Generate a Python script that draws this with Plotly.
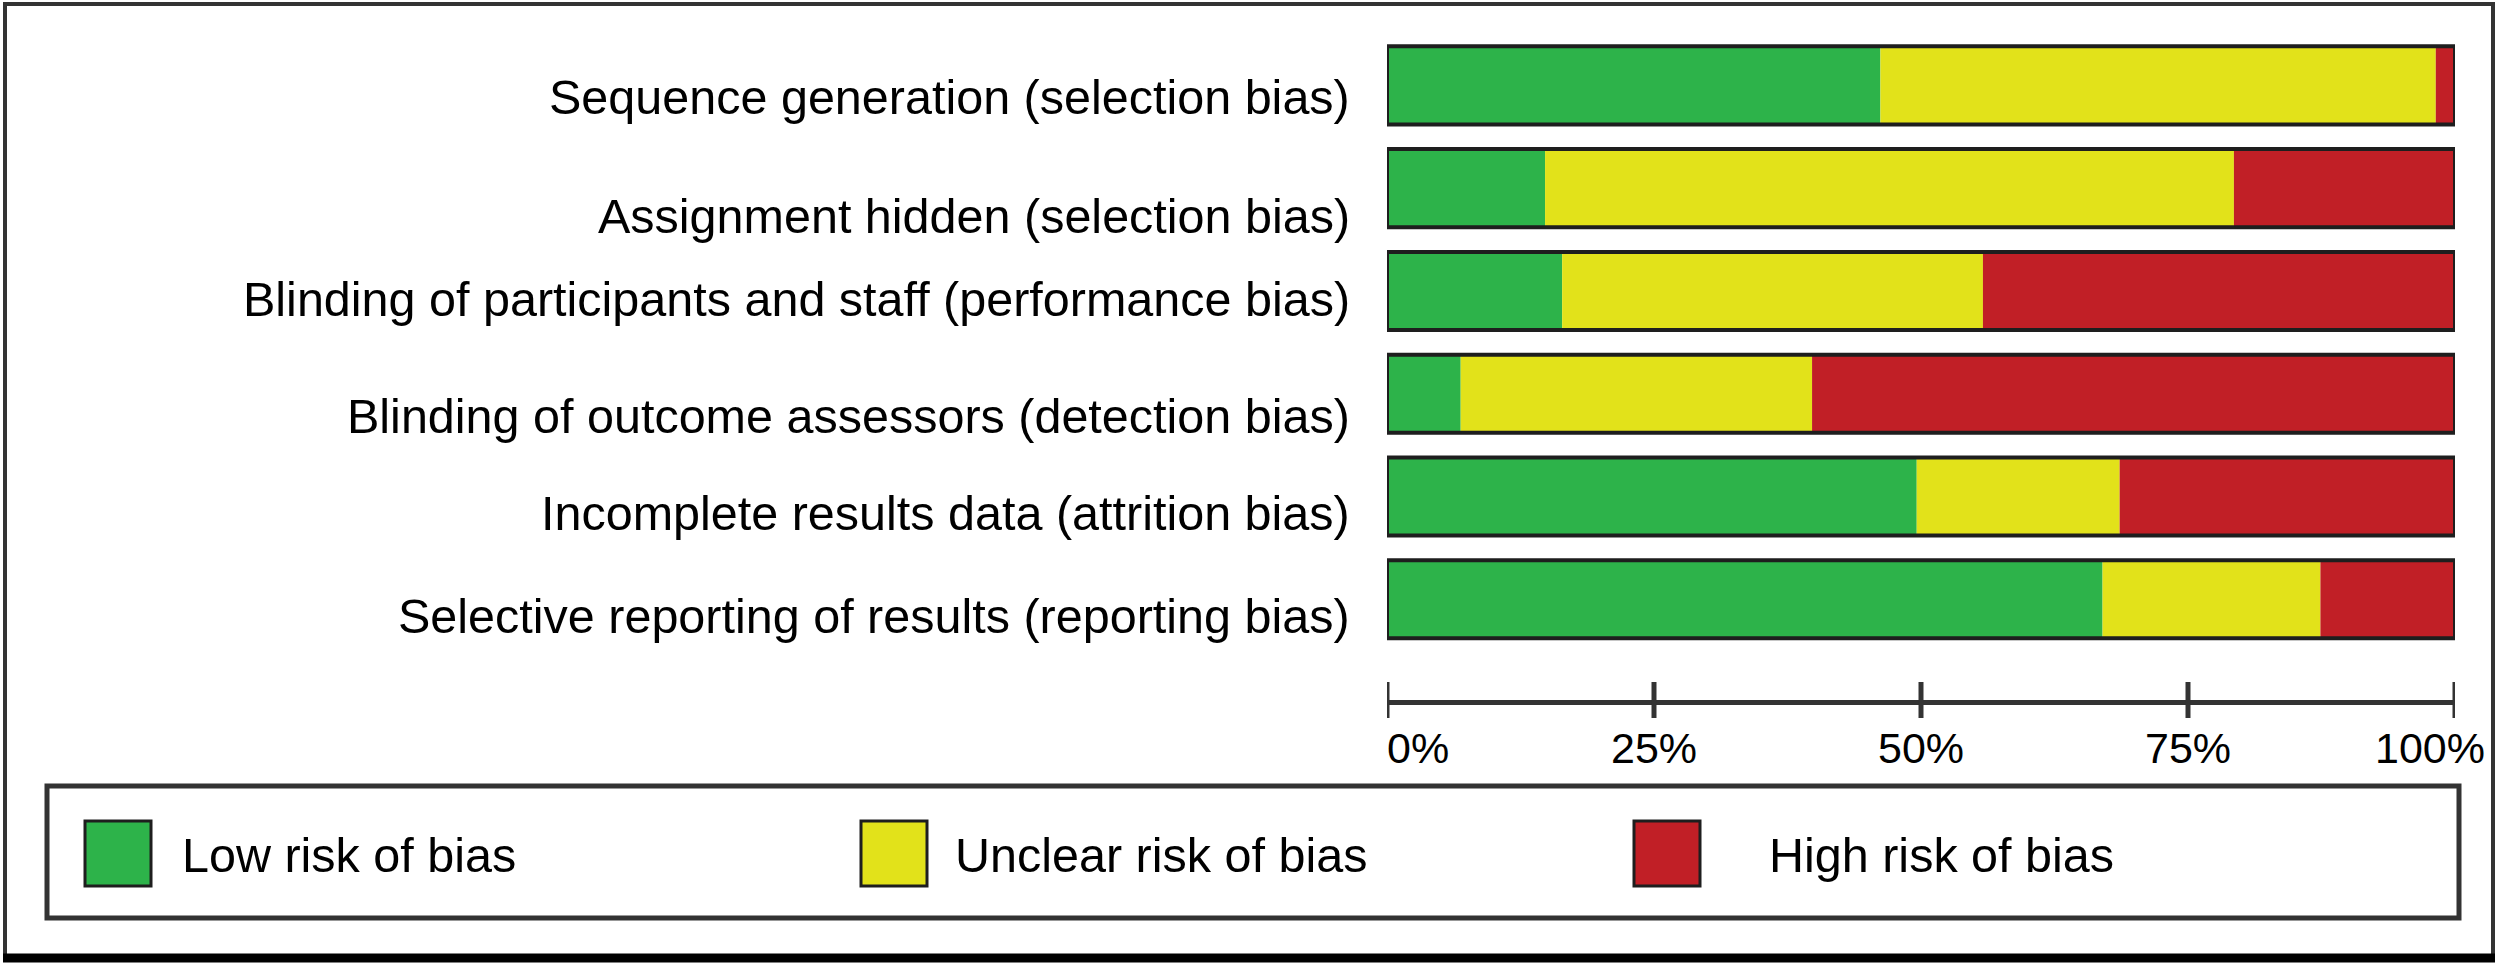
import plotly.graph_objects as go

categories = [
    "Sequence generation (selection bias)",
    "Assignment hidden (selection bias)",
    "Blinding of participants and staff (performance bias)",
    "Blinding of outcome assessors (detection bias)",
    "Incomplete results data (attrition bias)",
    "Selective reporting of results (reporting bias)",
]
low_risk = [46.2, 14.8, 16.4, 6.9, 49.6, 67.0]
unclear_risk = [52.0, 64.5, 39.4, 32.9, 19.0, 20.4]
high_risk = [1.8, 20.7, 44.2, 60.2, 31.4, 12.6]
series_names = ["Low risk of bias", "Unclear risk of bias", "High risk of bias"]
series_colors = ["#2DB34A", "#E2E21A", "#C11F26"]
tick_values = [0, 25, 50, 75, 100]
tick_labels = ["0%", "25%", "50%", "75%", "100%"]

# layout geometry (pixels)
W, H = 2500, 966
L, R = 1387, 2455
T, B = 34, 700
PW, PH = R - L, B - T
FONT = "Liberation Sans, Arial, sans-serif"
OUT = "#1e1e1e"

def px_x(p):
    return (p - L) / PW

def px_y(p):
    return (B - p) / PH

order = list(reversed(categories))  # bottom to top
fig = go.Figure()
series = [low_risk, unclear_risk, high_risk]
bases = [[0] * len(categories)]
for s in series[:-1]:
    bases.append([b + v for b, v in zip(bases[-1], s)])
for name, vals, base, col in zip(series_names, series, bases, series_colors):
    fig.add_trace(go.Bar(
        y=categories, x=vals, base=base, orientation="h", name=name,
        marker=dict(color=col, line=dict(width=0)), width=0.76,
        showlegend=False, hoverinfo="skip"))
# outline of each whole bar
totals = [a + b + c for a, b, c in zip(low_risk, unclear_risk, high_risk)]
fig.add_trace(go.Bar(
    y=categories, x=totals, base=[0] * len(categories), orientation="h",
    marker=dict(color="rgba(0,0,0,0)", line=dict(color=OUT, width=4)),
    width=0.76, showlegend=False, hoverinfo="skip"))

shapes = []
annotations = []

# category labels with small vertical offsets as in reference
label_shift = [-12, -28, -8, -22, -16, -17]
for cat, ys in zip(categories, label_shift):
    annotations.append(dict(
        x=0, xref="paper", y=cat, yref="y", xanchor="right", yanchor="middle",
        xshift=-35, yshift=ys, text=cat, showarrow=False,
        font=dict(family=FONT, size=48.5, color="black")))

# x-axis ticks crossing the axis line
for tv in tick_values:
    shapes.append(dict(type="line", xref="x", x0=tv, x1=tv, yref="paper",
                       ysizemode="pixel", yanchor=0, y0=-18, y1=18,
                       line=dict(color="#333333", width=5)))
anchors = {0: ("left", -2), 100: ("right", 32)}
for tv, tl in zip(tick_values, tick_labels):
    xa, xs = anchors.get(tv, ("center", 0))
    annotations.append(dict(
        x=tv, xref="x", y=0, yref="paper", xanchor=xa, yanchor="top",
        xshift=xs, yshift=-22, text=tl, showarrow=False,
        font=dict(family=FONT, size=43, color="black")))

# custom legend
shapes.append(dict(type="rect", xref="paper", yref="paper",
                   x0=px_x(47), x1=px_x(2459), y0=px_y(786), y1=px_y(918),
                   line=dict(color="#333333", width=5), fillcolor="white"))
sw_x = [85, 861, 1634]
tx_x = [180, 953, 1767]
for name, col, sx, tx in zip(series_names, series_colors, sw_x, tx_x):
    shapes.append(dict(type="rect", xref="paper", yref="paper",
                       x0=px_x(sx), x1=px_x(sx + 66), y0=px_y(821), y1=px_y(886),
                       line=dict(color=OUT, width=3), fillcolor=col))
    annotations.append(dict(
        x=px_x(tx), xref="paper", y=px_y(855), yref="paper", xanchor="left",
        yanchor="middle", text=name, showarrow=False,
        font=dict(family=FONT, size=48.5, color="black")))

# outer frame
shapes.append(dict(type="rect", xref="paper", yref="paper",
                   x0=px_x(5), x1=px_x(2493), y0=px_y(4), y1=px_y(958),
                   line=dict(color="#333333", width=4)))
shapes.append(dict(type="line", xref="paper", yref="paper",
                   x0=px_x(3), x1=px_x(2495), y0=px_y(958), y1=px_y(958),
                   line=dict(color="black", width=9)))

fig.update_layout(
    width=W, height=H, barmode="overlay",
    margin=dict(l=L, r=W - R, t=T, b=H - B, pad=0),
    paper_bgcolor="white", plot_bgcolor="white",
    xaxis=dict(range=[0, 100], showgrid=False, zeroline=False,
               showline=True, linecolor="#333333", linewidth=5,
               showticklabels=False, ticks="", tickvals=tick_values),
    yaxis=dict(type="category", categoryorder="array", categoryarray=order,
               range=[-0.98, 5.5], showgrid=False, zeroline=False,
               showline=False, showticklabels=False, ticks=""),
    shapes=shapes, annotations=annotations,
)

fig.write_html("out.html", config={"displayModeBar": False},
               post_script="document.body.style.margin='0px';")
